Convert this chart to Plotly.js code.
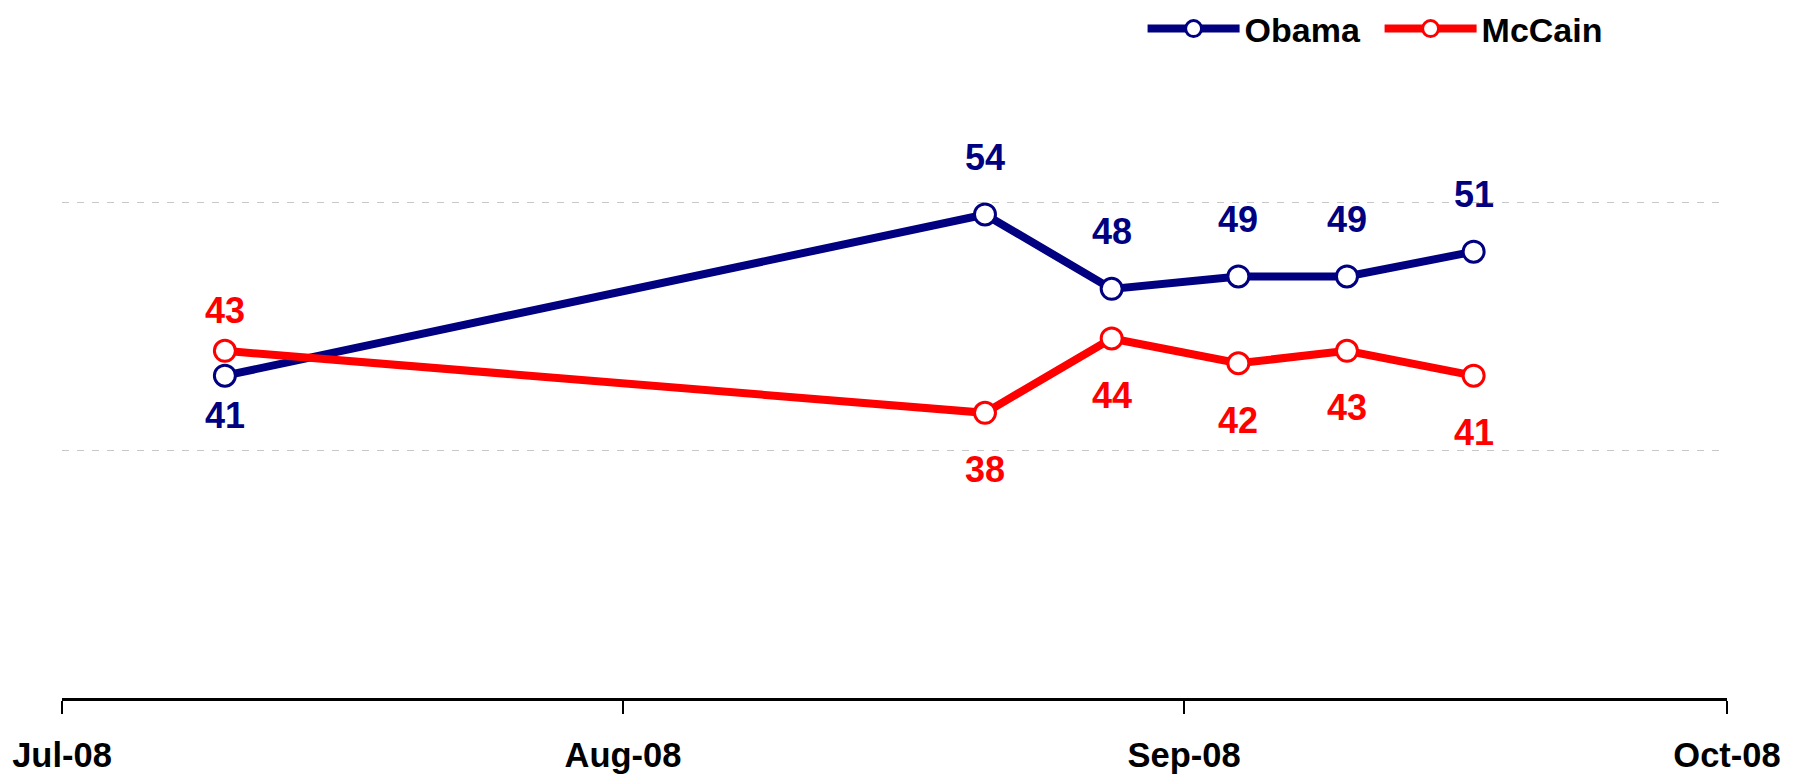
<!DOCTYPE html>
<html>
<head>
<meta charset="utf-8">
<script src="https://cdn.plot.ly/plotly-3.0.1.min.js"></script>
<style>
  html, body { margin: 0; padding: 0; background: #ffffff; }
  #chart { width: 1799px; height: 774px; }
</style>
</head>
<body>
<div id="chart"></div>
<script>
// ---- data ----
const pollDates = ['2008-07-10', '2008-08-21', '2008-08-28', '2008-09-04', '2008-09-10', '2008-09-17'];
const obama = [41, 54, 48, 49, 49, 51];
const mccain = [43, 38, 44, 42, 43, 41];
const seriesNames = ['Obama', 'McCain'];
const tickDates = ['2008-07-01', '2008-08-01', '2008-09-01', '2008-10-01'];
const tickLabels = ['Jul-08', 'Aug-08', 'Sep-08', 'Oct-08'];

// ---- style ----
const FONT = 'Arial, "Liberation Sans", sans-serif';
const colors = ['#000080', '#FF0000'];
const LABEL_OFFSET = 57;
const FIRST_LABEL_OFFSET = 40;

const allSeries = [obama, mccain];

const traces = allSeries.map((vals, i) => ({
  type: 'scatter',
  mode: 'lines+markers',
  name: seriesNames[i],
  x: pollDates,
  y: vals,
  line: { color: colors[i], width: 8 },
  marker: { symbol: 'circle', size: 21, color: '#ffffff', line: { color: colors[i], width: 3 } },
  hoverinfo: 'skip'
}));

const annotations = [];
allSeries.forEach((vals, i) => {
  const other = allSeries[1 - i];
  vals.forEach((v, j) => {
    const above = v > other[j];
    const off = j === 0 ? FIRST_LABEL_OFFSET : LABEL_OFFSET;
    annotations.push({
      x: pollDates[j], y: v, xref: 'x', yref: 'y',
      text: String(v), showarrow: false,
      xanchor: 'center', yanchor: 'middle',
      yshift: above ? off : -off,
      font: { family: FONT, size: 36, color: colors[i], weight: 'bold' }
    });
  });
});

const layout = {
  width: 1799, height: 774,
  margin: { l: 62, r: 72, t: 0, b: 76 },
  paper_bgcolor: '#ffffff', plot_bgcolor: '#ffffff',
  showlegend: true,
  legend: {
    orientation: 'h', x: 0.649, xanchor: 'left', y: 1, yanchor: 'top',
    itemwidth: 92, entrywidth: 130, entrywidthmode: 'pixels',
    font: { family: FONT, size: 34, color: '#000000', weight: 'bold' },
    bgcolor: 'rgba(0,0,0,0)', borderwidth: 0, traceorder: 'normal'
  },
  xaxis: {
    type: 'date',
    range: [tickDates[0], tickDates[tickDates.length - 1]],
    tickmode: 'array', tickvals: tickDates, ticktext: tickLabels,
    showgrid: false, zeroline: false,
    showline: true, linecolor: '#000000', linewidth: 3,
    ticks: 'outside', ticklen: 13, tickwidth: 2, tickcolor: '#000000',
    ticklabelstandoff: 12,
    tickfont: { family: FONT, size: 34.5, color: '#000000', weight: 'bold' },
    fixedrange: true
  },
  yaxis: {
    range: [15, 71.3],
    tickmode: 'array', tickvals: [35, 55],
    showticklabels: false, ticks: '',
    showgrid: true, gridcolor: '#c8c8c8', gridwidth: 1, griddash: '7px,8px',
    zeroline: false, showline: false,
    fixedrange: true
  },
  annotations: annotations
};

Plotly.newPlot('chart', traces, layout, { displayModeBar: false, staticPlot: true });
</script>
</body>
</html>
